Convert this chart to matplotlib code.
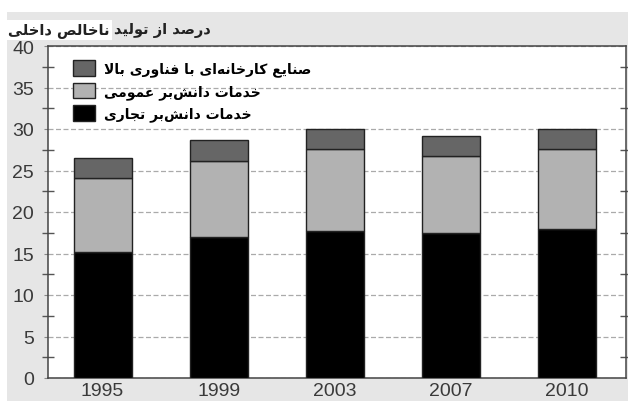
import numpy as np
import matplotlib
matplotlib.use('Agg')
import matplotlib.pyplot as plt
from matplotlib.ticker import MultipleLocator
from matplotlib.text import Annotation

# 数据
years = ['1995', '1999', '2003', '2007', '2010']
commercial = [15.15, 17.0, 17.75, 17.5, 18.0]     # خدمات دانش‌بر تجاری
public = [8.9, 9.15, 9.9, 9.25, 9.6]              # خدمات دانش‌بر عمومی
hightech = [2.5, 2.5, 2.4, 2.35, 2.4]             # صنایع کارخانه‌ای با فناوری بالا
labels = ['خدمات دانش\u200cبر تجاری', 'خدمات دانش\u200cبر عمومی',
          'صنایع کارخانه\u200cای با فناوری بالا']
title_right = 'درصد از تولید'
title_left = 'ناخالص داخلی'

# 简单的波斯文字形连接（matplotlib 不做 shaping / bidi）
FORMS = {
    'ا': ('\uFE8D', '\uFE8E', None, None),
    'ب': ('\uFE8F', '\uFE90', '\uFE91', '\uFE92'),
    'ت': ('\uFE95', '\uFE96', '\uFE97', '\uFE98'),
    'ج': ('\uFE9D', '\uFE9E', '\uFE9F', '\uFEA0'),
    'خ': ('\uFEA5', '\uFEA6', '\uFEA7', '\uFEA8'),
    'د': ('\uFEA9', '\uFEAA', None, None),
    'ر': ('\uFEAD', '\uFEAE', None, None),
    'ز': ('\uFEAF', '\uFEB0', None, None),
    'ش': ('\uFEB5', '\uFEB6', '\uFEB7', '\uFEB8'),
    'ص': ('\uFEB9', '\uFEBA', '\uFEBB', '\uFEBC'),
    'ع': ('\uFEC9', '\uFECA', '\uFECB', '\uFECC'),
    'ف': ('\uFED1', '\uFED2', '\uFED3', '\uFED4'),
    'ل': ('\uFEDD', '\uFEDE', '\uFEDF', '\uFEE0'),
    'م': ('\uFEE1', '\uFEE2', '\uFEE3', '\uFEE4'),
    'ن': ('\uFEE5', '\uFEE6', '\uFEE7', '\uFEE8'),
    'ه': ('\uFEE9', '\uFEEA', '\uFEEB', '\uFEEC'),
    'و': ('\uFEED', '\uFEEE', None, None),
    'ک': ('\uFB8E', '\uFB8F', '\uFB90', '\uFB91'),
    'ی': ('\uFBFC', '\uFBFD', '\uFBFE', '\uFBFF'),
}


def shape(text):
    out = []
    i = 0
    n = len(text)
    while i < n:
        c = text[i]
        prev = text[i - 1] if i > 0 else None
        nxt = text[i + 1] if i + 1 < n else None
        jp = prev in FORMS and FORMS[prev][2] is not None
        if c == 'ل' and nxt == 'ا':
            out.append('\uFEFC' if jp else '\uFEFB')
            i += 2
            continue
        if c in FORMS:
            f = FORMS[c]
            jn = f[2] is not None and nxt in FORMS
            if jp and jn:
                out.append(f[3])
            elif jn:
                out.append(f[2])
            elif jp:
                out.append(f[1])
            else:
                out.append(f[0])
        elif c != '\u200c':
            out.append(c)
        i += 1
    return ''.join(out[::-1])


fa_font = ['DejaVu Sans']
num_font = ['Liberation Sans', 'DejaVu Sans']

fig = plt.figure(figsize=(6.28, 4.02), dpi=100)
fig.patch.set_facecolor('white')
# 灰色背景
bg = plt.Rectangle((7 / 628, 0), 1, 1 - 13 / 402, transform=fig.transFigure,
                   facecolor='#e6e6e6', edgecolor='none', zorder=-5)
fig.add_artist(bg)

ax = fig.add_axes([48 / 628, 23 / 402, 578 / 628, 332 / 402])
ax.set_facecolor('white')

x = np.arange(len(years))
w = 0.5
b1 = ax.bar(x, commercial, w, color='#000000', edgecolor='#222222', linewidth=1, zorder=3)
bottom2 = np.array(commercial)
b2 = ax.bar(x, public, w, bottom=bottom2, color='#b2b2b2', edgecolor='#222222', linewidth=1, zorder=3)
bottom3 = bottom2 + np.array(public)
b3 = ax.bar(x, hightech, w, bottom=bottom3, color='#666666', edgecolor='#222222', linewidth=1, zorder=3)

ax.set_xlim(-0.47, 4.51)
ax.set_ylim(0, 40)
ax.set_xticks(x)
ax.set_xticklabels(years, family=num_font, fontsize=14, color='#3a3a3a')
ax.tick_params(axis='x', length=0, pad=3)

ax.yaxis.set_major_locator(MultipleLocator(5))
ax.yaxis.set_minor_locator(MultipleLocator(2.5))
ax.tick_params(axis='y', which='major', direction='out', length=3, width=0.8,
               color='#888888', labelsize=14, labelcolor='#3a3a3a', pad=7)
ax.tick_params(axis='y', which='minor', direction='inout', length=9, width=1,
               color='#555555', right=True)
for t in ax.get_yticklabels():
    t.set_family(num_font)
ax.grid(axis='y', which='major', linestyle=(0, (4, 2)), color='#aaaaaa', linewidth=0.9, zorder=1)

for s in ax.spines.values():
    s.set_color('#444444')
    s.set_linewidth(1.1)

# 图例
leg = ax.legend([b3, b2, b1], [shape(l) for l in labels[::-1]], loc='upper left',
                bbox_to_anchor=(0.022, 0.995), frameon=False, handlelength=1.6,
                handleheight=1.35, handletextpad=0.6, labelspacing=0.45,
                prop={'family': fa_font, 'weight': 'bold', 'size': 10})
for h in leg.legend_handles:
    h.set_edgecolor('#222222')

# 标题
t1 = fig.text(8 / 628, 1 - 31 / 402, shape(title_left), family=fa_font, weight='bold',
              fontsize=10.5, color='#222222', va='center', ha='left',
              bbox=dict(facecolor='white', edgecolor='none', pad=1.5))
t2 = Annotation(shape(title_right), xy=(1, 0.5), xycoords=t1, xytext=(3, 0),
                textcoords='offset points', family=fa_font, weight='bold', fontsize=10.5,
                color='#222222', va='center', ha='left', annotation_clip=False)
fig.add_artist(t2)

fig.savefig('out.png', dpi=100)
